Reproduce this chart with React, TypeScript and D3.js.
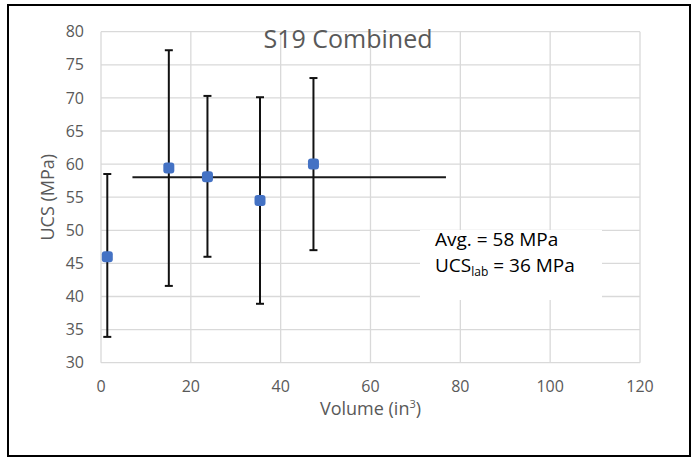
import React from "react";
import * as d3 from "d3";

const volumes = [1.4, 15.1, 23.7, 35.4, 47.3];
const ucsMean = [46.0, 59.4, 58.1, 54.5, 60.0];
const ucsHigh = [58.5, 77.2, 70.3, 70.1, 73.0];
const ucsLow = [33.9, 41.6, 46.0, 38.9, 47.0];
const avgValue = 58;
const avgXRange = [7.0, 76.8];
const xTicks = [0, 20, 40, 60, 80, 100, 120];
const yTicks = [30, 35, 40, 45, 50, 55, 60, 65, 70, 75, 80];
const titleText = "S19 Combined";
const avgLabel = "Avg. = 58 MPa";
const labLabelValue = "= 36 MPa";

const W = 697;
const H = 458;
const plot = { left: 101, right: 640, top: 31.7, bottom: 362.7 };
const FONT = "'Open Sans', 'Liberation Sans', sans-serif";

export default function App() {
  const x = d3.scaleLinear().domain([0, 120]).range([plot.left, plot.right]);
  const y = d3.scaleLinear().domain([30, 80]).range([plot.bottom, plot.top]);
  const grid = "#d9d9d9";
  const textGray = "#595959";
  const cap = 4;
  const ms = 11;

  return (
    <svg
      width={W}
      height={H}
      style={{ position: "absolute", left: 0, top: 0, background: "#fff" }}
      fontFamily={FONT}
    >
      <rect x={0} y={0} width={W} height={H} fill="#fff" />
      <rect x={8} y={5} width={682} height={451} fill="#fff" stroke="#000" strokeWidth={2} />

      {/* grid */}
      {yTicks.map((t) => (
        <line key={"gy" + t} x1={plot.left} x2={plot.right} y1={y(t)} y2={y(t)} stroke={grid} strokeWidth={1.3} />
      ))}
      {xTicks.map((t) => (
        <line key={"gx" + t} x1={x(t)} x2={x(t)} y1={plot.top} y2={plot.bottom} stroke={grid} strokeWidth={1.3} />
      ))}

      {/* tick labels */}
      {yTicks.map((t) => (
        <text key={"ly" + t} x={84} y={y(t)} dy="0.35em" textAnchor="end" fontSize={16} fill={textGray}>
          {t}
        </text>
      ))}
      {xTicks.map((t) => (
        <text key={"lx" + t} x={x(t)} y={392} textAnchor="middle" fontSize={16} fill={textGray}>
          {t}
        </text>
      ))}

      {/* title */}
      <text x={348} y={47.5} textAnchor="middle" fontSize={25} fill={textGray}>
        {titleText}
      </text>

      {/* axis titles */}
      <text x={(plot.left + plot.right) / 2} y={415} textAnchor="middle" fontSize={18} fill={textGray}>
        Volume (in<tspan fontSize={11} dy={-7}>3</tspan><tspan dy={7}>)</tspan>
      </text>
      <text
        transform={`translate(54, ${(plot.top + plot.bottom) / 2}) rotate(-90)`}
        textAnchor="middle"
        fontSize={18}
        fill={textGray}
      >
        UCS (MPa)
      </text>

      {/* text box */}
      <rect x={420} y={230} width={182} height={70} fill="#fff" />
      <text x={435} y={246} fontSize={19} fill="#000">
        {avgLabel}
      </text>
      <text x={435} y={272} fontSize={19} fill="#000">
        UCS<tspan fontSize={12} dy={4}>lab</tspan>
        <tspan dy={-4}> {labLabelValue}</tspan>
      </text>

      {/* average line */}
      <line
        x1={x(avgXRange[0])}
        x2={x(avgXRange[1])}
        y1={y(avgValue)}
        y2={y(avgValue)}
        stroke="#1a1a1a"
        strokeWidth={2}
      />

      {/* error bars */}
      {volumes.map((v, i) => (
        <g key={"e" + i} stroke="#111" strokeWidth={2}>
          <line x1={x(v)} x2={x(v)} y1={y(ucsHigh[i])} y2={y(ucsLow[i])} />
          <line x1={x(v) - cap} x2={x(v) + cap} y1={y(ucsHigh[i])} y2={y(ucsHigh[i])} />
          <line x1={x(v) - cap} x2={x(v) + cap} y1={y(ucsLow[i])} y2={y(ucsLow[i])} />
        </g>
      ))}

      {/* markers */}
      {volumes.map((v, i) => (
        <rect
          key={"m" + i}
          x={x(v) - ms / 2}
          y={y(ucsMean[i]) - ms / 2}
          width={ms}
          height={ms}
          rx={3}
          fill="#4472C4"
        />
      ))}
    </svg>
  );
}
